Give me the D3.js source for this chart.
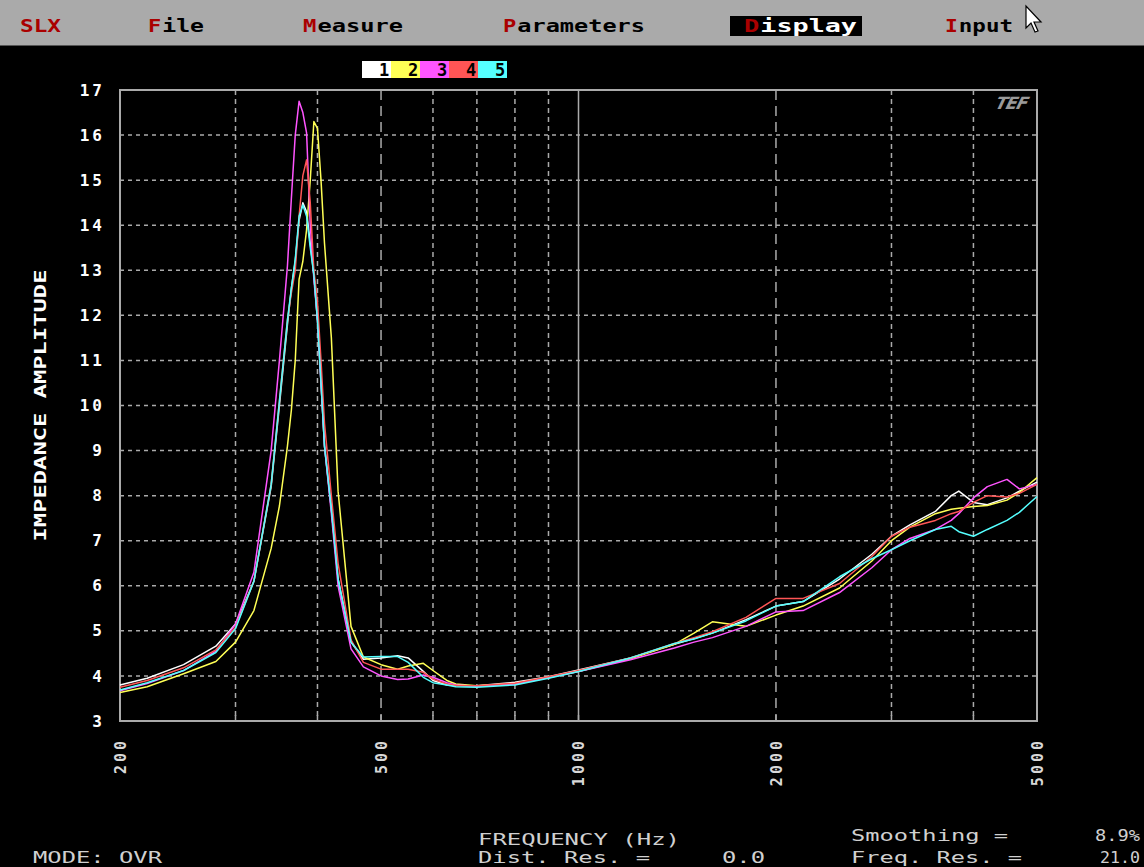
<!DOCTYPE html>
<meta charset="utf-8">
<head>
    <style>
        body { margin: 0; background: #000; }
        svg { display: block; }
        .mono { font-family: "DejaVu Sans Mono", monospace; }
        .trace { fill: none; stroke-width: 1.5; stroke-linejoin: round; }
    </style>
    <script src="https://cdnjs.cloudflare.com/ajax/libs/d3/7.8.5/d3.min.js"></script>
</head>
<body></body>
<script>

    // frequencies (Hz) shared by the five traces
    var freqs = [200, 220, 250, 280, 300, 320, 340, 350, 360, 365, 370, 375, 380, 385, 390, 395, 400, 405, 410, 420, 430, 450, 470,
        500, 530, 550, 580, 600, 630, 650, 700, 800, 900, 1000, 1200, 1400, 1500, 1600, 1800, 2000, 2200, 2500, 2800, 3000, 3200,
        3500, 3700, 3800, 4000, 4200, 4500, 4700, 5000];

    // impedance amplitude, one array per measurement
    var trace1 = [3.80, 3.95, 4.25, 4.66, 5.15, 6.1, 8.2, 10.0, 11.8, 12.6, 13.2, 14.1, 14.5, 14.3, 13.6, 12.9, 11.9, 10.5, 9.1, 7.7, 6.15, 4.75, 4.37,
        4.4, 4.45, 4.4, 4.1, 3.9, 3.8, 3.79, 3.78, 3.86, 3.98, 4.13, 4.4, 4.7, 4.83, 4.95, 5.25, 5.55, 5.65, 6.15, 6.7, 7.1, 7.35,
        7.65, 8.0, 8.1, 7.85, 7.8, 7.95, 8.1, 8.3];
    var trace2 = [3.63, 3.76, 4.05, 4.32, 4.75, 5.45, 6.83, 7.77, 9.1, 9.9, 11.0, 12.8, 13.2, 13.9, 15.0, 16.3, 16.15, 15.0, 13.6, 11.5, 8.1, 5.1, 4.42,
        4.25, 4.15, 4.22, 4.28, 4.12, 3.9, 3.82, 3.78, 3.83, 3.97, 4.1, 4.38, 4.7, 4.95, 5.2, 5.1, 5.35, 5.55, 5.95, 6.55, 7.0, 7.3,
        7.6, 7.7, 7.72, 7.76, 7.78, 7.9, 8.07, 8.4];
    var trace3 = [3.67, 3.83, 4.12, 4.55, 5.15, 6.3, 9.0, 11.0, 13.1, 14.6, 16.0, 16.75, 16.5, 16.05, 14.0, 12.8, 11.9, 10.5, 9.1, 7.6, 6.0, 4.6, 4.2,
        4.0, 3.92, 3.93, 4.02, 3.97, 3.85, 3.8, 3.77, 3.82, 3.96, 4.1, 4.36, 4.62, 4.75, 4.85, 5.1, 5.42, 5.45, 5.85, 6.4, 6.8, 7.05,
        7.25, 7.45, 7.6, 7.95, 8.2, 8.36, 8.15, 8.25];
    var trace4 = [3.75, 3.9, 4.18, 4.58, 5.08, 6.1, 8.25, 10.1, 11.9, 12.5, 13.0, 14.2, 15.1, 15.45, 14.5, 13.0, 12.3, 11.0, 9.6, 8.0, 6.5, 4.8, 4.3,
        4.15, 4.15, 4.15, 4.08, 3.93, 3.82, 3.79, 3.78, 3.84, 3.98, 4.12, 4.4, 4.72, 4.85, 4.98, 5.3, 5.72, 5.72, 6.05, 6.65, 7.1, 7.3,
        7.45, 7.6, 7.65, 7.85, 8.0, 7.97, 8.05, 8.25];
    var trace5 = [3.69, 3.85, 4.12, 4.52, 5.05, 6.1, 8.25, 10.1, 11.9, 12.6, 13.25, 14.2, 14.45, 14.2, 13.5, 12.9, 11.9, 10.5, 9.1, 7.7, 6.15, 4.75, 4.42,
        4.43, 4.43, 4.3, 3.97, 3.85, 3.8, 3.76, 3.75, 3.8, 3.95, 4.1, 4.4, 4.72, 4.82, 4.95, 5.22, 5.55, 5.65, 6.2, 6.6, 6.8, 7.0,
        7.25, 7.32, 7.2, 7.1, 7.25, 7.45, 7.63, 7.98];

    var traceNames = ["1", "2", "3", "4", "5"];
    var traceColors = ["#ffffff", "#ffff55", "#ff55ff", "#ff5555", "#55ffff"];

    var yTicks = [3, 4, 5, 6, 7, 8, 9, 10, 11, 12, 13, 14, 15, 16, 17];
    var xLabels = [200, 500, 1000, 2000, 5000];
    var xGridShort = [300, 400, 600, 700, 800, 900, 3000, 4000];
    var xGridLong = [500, 2000];
    var xGridSolid = [1000];

    var W = 1144, H = 867;
    var plotL = 120, plotR = 1037, plotT = 90, plotB = 721;

    var svg = d3.select("body").append("svg")
        .attr("width", W)
        .attr("height", H);

    svg.append("rect").attr("width", W).attr("height", H).attr("fill", "#000");

    var x = d3.scaleLog().domain([200, 5000]).range([plotL, plotR]),
        y = d3.scaleLinear().domain([3, 17]).range([plotB, plotT]);

    // ---- menu bar
    svg.append("rect").attr("x", 0).attr("y", 0).attr("width", W).attr("height", 45).attr("fill", "#aaaaaa");
    svg.append("rect").attr("x", 0).attr("y", 45).attr("width", W).attr("height", 1).attr("fill", "#555");
    svg.append("rect").attr("x", 730).attr("y", 16).attr("width", 132).attr("height", 20).attr("fill", "#000");

    var menu = [
        {lead: "SLX", rest: "", x: 20, len: 42, c: "#000"},
        {lead: "F", rest: "ile", x: 148, len: 57, c: "#000"},
        {lead: "M", rest: "easure", x: 303, len: 101, c: "#000"},
        {lead: "P", rest: "arameters", x: 503, len: 143, c: "#000"},
        {lead: "D", rest: "isplay", x: 744, len: 114, c: "#fff"},
        {lead: "I", rest: "nput", x: 945, len: 69, c: "#000"}
    ];
    menu.forEach(function(m) {
        var n = m.lead.length + m.rest.length,
            cw = m.len / n;
        svg.append("text").attr("class", "mono")
            .attr("x", m.x).attr("y", 32)
            .attr("textLength", cw * m.lead.length - 1).attr("lengthAdjust", "spacingAndGlyphs")
            .style("font-size", "18px").style("font-weight", "bold")
            .attr("fill", "#aa0000").text(m.lead);
        if (m.rest) {
            svg.append("text").attr("class", "mono")
                .attr("x", m.x + cw * m.lead.length).attr("y", 32)
                .attr("textLength", cw * m.rest.length - 1).attr("lengthAdjust", "spacingAndGlyphs")
                .style("font-size", "18px").style("font-weight", "bold")
                .attr("fill", m.c).text(m.rest);
        }
    });

    // mouse pointer
    svg.append("path")
        .attr("d", "M0,0 L0,22 L5,17 L9,26 L12,25 L8,16 L15,16 Z")
        .attr("transform", "translate(1026,6)")
        .attr("fill", "#fff").attr("stroke", "#000").attr("stroke-width", 1.2);

    // ---- legend boxes
    var legend = svg.append("g");
    traceNames.forEach(function(n, i) {
        legend.append("rect").attr("x", 362 + i * 29).attr("y", 61).attr("width", 29).attr("height", 17)
            .attr("fill", traceColors[i]);
        legend.append("text").attr("class", "mono")
            .attr("x", 362 + i * 29 + 22).attr("y", 76)
            .attr("text-anchor", "middle")
            .style("font-size", "17px").style("font-weight", "bold").attr("fill", "#000")
            .text(n);
    });

    // ---- grid
    var grid = svg.append("g").attr("stroke", "#aaaaaa").attr("stroke-width", 1.5);
    grid.selectAll(".hg").data(yTicks.slice(1, -1)).enter().append("line")
        .attr("x1", plotL).attr("x2", plotR)
        .attr("y1", function(d) { return y(d); }).attr("y2", function(d) { return y(d); })
        .attr("stroke-dasharray", "4,4");
    grid.selectAll(".vs").data(xGridShort).enter().append("line")
        .attr("x1", function(d) { return x(d); }).attr("x2", function(d) { return x(d); })
        .attr("y1", plotT).attr("y2", plotB)
        .attr("stroke-dasharray", "5,4");
    grid.selectAll(".vl").data(xGridLong).enter().append("line")
        .attr("x1", function(d) { return x(d); }).attr("x2", function(d) { return x(d); })
        .attr("y1", plotT).attr("y2", plotB)
        .attr("stroke-dasharray", "10,6");
    grid.selectAll(".vf").data(xGridSolid).enter().append("line")
        .attr("x1", function(d) { return x(d); }).attr("x2", function(d) { return x(d); })
        .attr("y1", plotT).attr("y2", plotB);

    // small ticks on the bottom border
    grid.selectAll(".bt").data(xGridShort.concat(xGridLong, xGridSolid)).enter().append("line")
        .attr("x1", function(d) { return x(d); }).attr("x2", function(d) { return x(d); })
        .attr("y1", plotB - 6).attr("y2", plotB);

    svg.append("rect").attr("x", plotL).attr("y", plotT).attr("width", plotR - plotL).attr("height", plotB - plotT)
        .attr("fill", "none").attr("stroke", "#aaaaaa").attr("stroke-width", 2);

    // TEF logo
    svg.append("text")
        .attr("x", 993).attr("y", 109)
        .attr("transform", "skewX(-25) translate(51,0)")
        .style("font-family", "DejaVu Sans").style("font-size", "17px").style("font-weight", "bold")
        .style("letter-spacing", "-1px")
        .attr("fill", "#9a9a9a").text("TEF");

    // ---- traces
    var traces = [trace1, trace2, trace3, trace4, trace5];
    var line = d3.line()
        .x(function(d) { return x(d[0]); })
        .y(function(d) { return y(d[1]); });

    svg.append("g").selectAll("path")
        .data(traces)
        .enter().append("path")
        .attr("class", "trace")
        .attr("stroke", function(d, i) { return traceColors[i]; })
        .attr("d", function(vals) { return line(freqs.map(function(f, k) { return [f, vals[k]]; })); });

    // ---- axes
    var yAxis = svg.append("g").attr("transform", "translate(" + plotL + ",0)")
        .call(d3.axisLeft(y).tickValues(yTicks).tickSize(0).tickPadding(15).tickFormat(d3.format("d")));
    yAxis.select(".domain").remove();
    yAxis.selectAll("text")
        .attr("class", "mono").attr("fill", "#fff")
        .style("font-size", "16px").style("font-weight", "bold").style("letter-spacing", "3px");

    var xAxis = svg.append("g").attr("transform", "translate(0," + plotB + ")")
        .call(d3.axisBottom(x).tickValues(xLabels).tickSize(0).tickFormat(d3.format("d")));
    xAxis.select(".domain").remove();
    xAxis.selectAll("text")
        .attr("class", "mono")
        .attr("transform", "rotate(-90)")
        .attr("x", -17).attr("y", 0).attr("dy", "0.35em")
        .attr("text-anchor", "end").attr("fill", "#d8d8d8")
        .style("font-size", "15px").style("font-weight", "bold").style("letter-spacing", "3px");

    svg.append("text").attr("class", "mono")
        .attr("transform", "translate(46," + ((plotT + plotB) / 2) + ") rotate(-90)")
        .attr("text-anchor", "middle").attr("fill", "#fff")
        .attr("textLength", 272).attr("lengthAdjust", "spacingAndGlyphs")
        .style("font-size", "15px").style("font-weight", "bold")
        .text("IMPEDANCE AMPLITUDE");

    // ---- status text
    var statusLines = [
        {t: "FREQUENCY (Hz)", x: 478, y: 845, len: 202},
        {t: "Dist. Res. =", x: 478, y: 863, len: 172},
        {t: "0.0", x: 722, y: 863, len: 43},
        {t: "Smoothing =", x: 851, y: 841, len: 157},
        {t: "8.9%", x: 1095, y: 841, len: 45},
        {t: "Freq. Res. =", x: 851, y: 863, len: 171},
        {t: "21.0", x: 1100, y: 863, len: 40},
        {t: "MODE: OVR", x: 33, y: 863, len: 129}
    ];
    svg.append("g").selectAll("text").data(statusLines).enter().append("text")
        .attr("class", "mono")
        .attr("x", function(d) { return d.x; }).attr("y", function(d) { return d.y; })
        .attr("textLength", function(d) { return d.len; }).attr("lengthAdjust", "spacingAndGlyphs")
        .attr("fill", "#d0d0d0")
        .style("font-size", "15px")
        .text(function(d) { return d.t; });

</script>
